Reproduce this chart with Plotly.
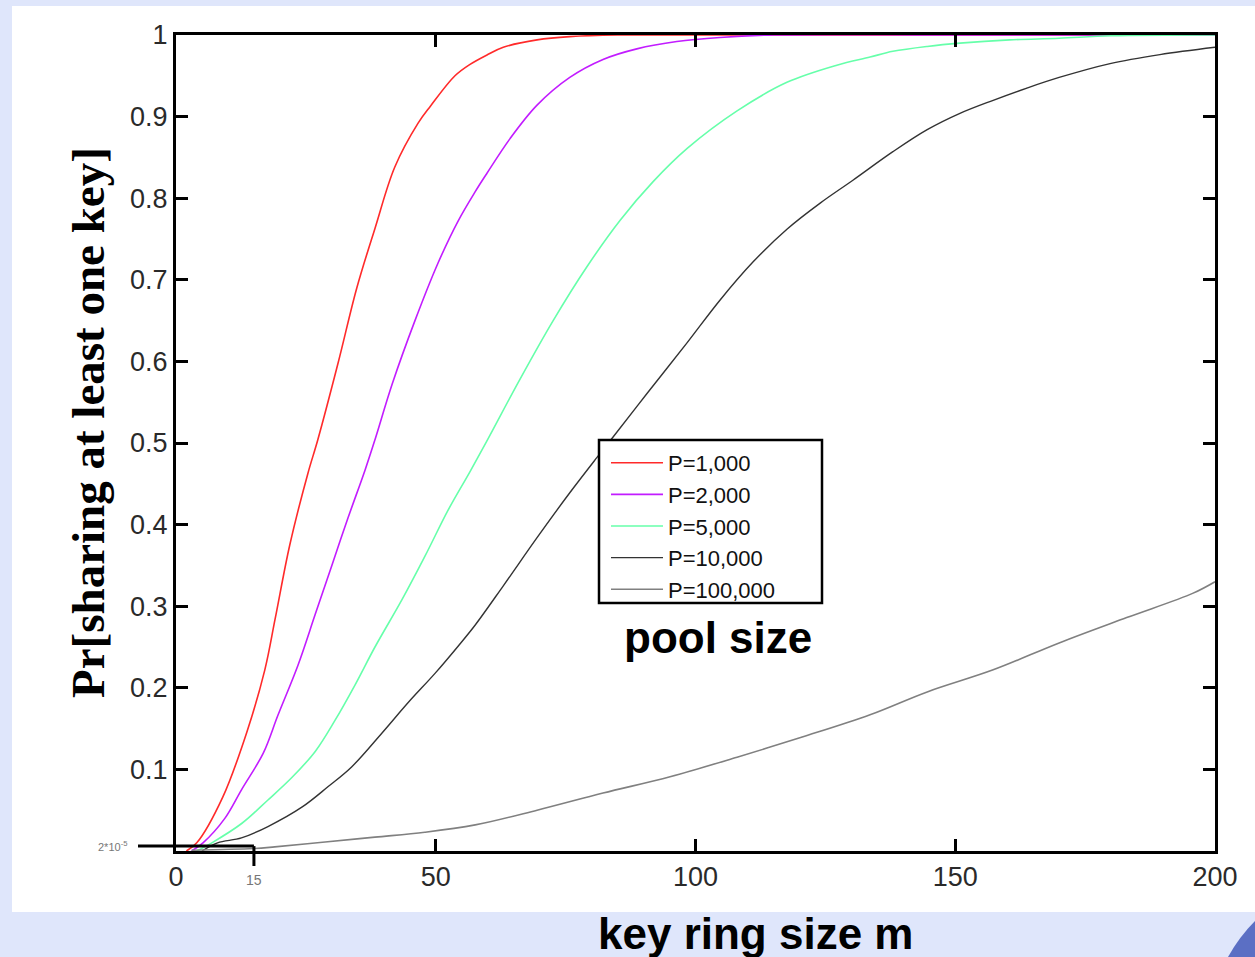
import plotly.graph_objects as go

# ---- data ----
series_names = ["P=1,000", "P=2,000", "P=5,000", "P=10,000", "P=100,000"]

m_p1000 = [2, 4, 9, 13.6, 17.1, 19.1, 21.9, 25.4, 27.3, 31.2, 34.8, 38.3, 42.1, 46.6, 49,
           53.7, 56.6, 60, 63, 69.5, 75.8, 85, 100, 150, 200]
v_p1000 = [0, 0.01, 0.066, 0.145, 0.222, 0.285, 0.375, 0.463, 0.504, 0.598, 0.69, 0.763, 0.838,
           0.892, 0.913, 0.95, 0.964, 0.976, 0.985, 0.994, 0.998, 1, 1, 1, 1]

m_p2000 = [3, 5.2, 9.4, 12.6, 16.8, 19.6, 23.5, 26.8, 30, 33.1, 36.4, 38.3, 41.6, 46, 50.4, 54.3,
           57.6, 59.8, 64.3, 69.5, 75.8, 82.2, 88.7, 96.4, 104.7, 115, 150, 200]
v_p2000 = [0, 0.01, 0.04, 0.075, 0.12, 0.166, 0.228, 0.29, 0.35, 0.408, 0.467, 0.504, 0.572,
           0.65, 0.72, 0.772, 0.808, 0.83, 0.873, 0.914, 0.948, 0.97, 0.983, 0.992, 0.997, 1, 1, 1]

m_p5000 = [4, 6.9, 12.7, 17.7, 22.3, 26.8, 30.6, 34.5, 38.3, 43.5, 47.9, 52.4, 56.6, 59.8, 66.2,
           72.6, 79.1, 85.5, 91.8, 98.4, 108, 117.6, 127.2, 133.6, 138, 144.6, 150.9, 160.5, 170,
           180, 200]
v_p5000 = [0, 0.01, 0.034, 0.0625, 0.09, 0.122, 0.16, 0.204, 0.25, 0.308, 0.361, 0.418, 0.465,
           0.502, 0.578, 0.65, 0.716, 0.773, 0.82, 0.861, 0.907, 0.942, 0.963, 0.973, 0.98,
           0.986, 0.99, 0.994, 0.996, 0.999, 1]

m_p10000 = [5, 8, 12.6, 17.7, 24.3, 29.3, 33.8, 39.7, 44.7, 49.9, 54.3, 57.6, 63, 69.5, 75.8, 81,
            84.1, 90.7, 98.4, 104.7, 111.1, 117.6, 124, 130.3, 138, 144.6, 150.9, 157.3,
            163.8, 170, 179.8, 189.4, 200]
v_p10000 = [0, 0.01, 0.016, 0.03, 0.054, 0.079, 0.103, 0.145, 0.182, 0.218, 0.251, 0.277, 0.325,
            0.384, 0.439, 0.482, 0.507, 0.561, 0.623, 0.675, 0.722, 0.762, 0.794, 0.822,
            0.857, 0.884, 0.904, 0.92, 0.935, 0.948, 0.965, 0.976, 0.985]

m_p100000 = [3, 15, 19, 28.7, 38.3, 47.9, 57.6, 69.5, 82.2, 95.1, 108, 120.7, 133.6, 144.6, 157.3,
             170, 183, 195.8, 200]
v_p100000 = [0.001, 0.003, 0.005, 0.011, 0.017, 0.023, 0.032, 0.05, 0.071, 0.091, 0.115, 0.14,
             0.167, 0.195, 0.222, 0.255, 0.286, 0.316, 0.33]

colors = ["#ff2a2a", "#c21cff", "#66ffaa", "#333333", "#808080"]
widths = [1.6, 1.6, 1.6, 1.4, 1.6]

x_tick_vals = [0, 50, 100, 150, 200]
x_tick_text = ["0", "50", "100", "150", "200"]
y_tick_vals = [0.1, 0.2, 0.3, 0.4, 0.5, 0.6, 0.7, 0.8, 0.9, 1.0]
y_tick_text = ["0.1", "0.2", "0.3", "0.4", "0.5", "0.6", "0.7", "0.8", "0.9", "1"]

xs = [m_p1000, m_p2000, m_p5000, m_p10000, m_p100000]
ys = [v_p1000, v_p2000, v_p5000, v_p10000, v_p100000]

fig = go.Figure()
for name, x, y, c, w in zip(series_names, xs, ys, colors, widths):
    fig.add_trace(go.Scatter(x=x, y=y, mode="lines", name=name,
                             line=dict(color=c, width=w, shape="spline", smoothing=1.0)))

W, H = 1255, 957
L, R, T, B = 176, 40, 35, 106
pw, ph = W - L - R, H - T - B


def px(xpix):
    return (xpix - L) / pw


def py(ypix):
    return (H - B - ypix) / ph


axis_font = dict(family="Liberation Sans, Arial, sans-serif", size=27, color="#2a2a2a")

fig.update_layout(
    width=W, height=H,
    margin=dict(l=L, r=R, t=T, b=B),
    paper_bgcolor="#dfe6fb",
    plot_bgcolor="white",
    showlegend=True,
    legend=dict(x=px(606), y=py(442), xanchor="left", yanchor="top",
                bgcolor="rgba(0,0,0,0)", borderwidth=0,
                font=dict(family="Liberation Sans, Arial, sans-serif", size=22, color="#111"),
                itemwidth=52, tracegroupgap=0),
    xaxis=dict(range=[0, 200], tickvals=x_tick_vals, ticktext=x_tick_text,
               showgrid=False, zeroline=False, showline=True, linecolor="black", linewidth=3,
               mirror="ticks", ticks="inside", ticklen=12, tickwidth=3, tickcolor="black",
               tickfont=axis_font),
    yaxis=dict(range=[0, 1], tickvals=y_tick_vals, ticktext=y_tick_text,
               showgrid=False, zeroline=False, showline=True, linecolor="black", linewidth=3,
               mirror="ticks", ticks="inside", ticklen=12, tickwidth=3, tickcolor="black",
               tickfont=axis_font),
)

# white slide panel behind the chart
fig.add_shape(type="rect", xref="paper", yref="paper",
              x0=px(12), x1=px(1262), y0=py(912), y1=py(6),
              fillcolor="white", line=dict(width=0), layer="below")

# legend frame (white box covering the curves underneath)
fig.add_shape(type="rect", xref="paper", yref="paper",
              x0=px(599), x1=px(822), y0=py(603), y1=py(440),
              fillcolor="white", line=dict(color="black", width=2.5), layer="above")

# decorative swoosh in the bottom-right corner
fig.add_shape(type="path", xref="paper", yref="paper",
              path=f"M {px(1228)},{py(957)} Q {px(1240)},{py(935)} {px(1258)},{py(918)} "
                   f"L {px(1258)},{py(957)} Z",
              fillcolor="#5b6fc4", line=dict(width=0), layer="above")

# small box near the origin and the odd "15" tick
fig.add_shape(type="line", xref="x", yref="y", x0=0, x1=15, y0=0.006, y1=0.006,
              line=dict(color="black", width=3))
fig.add_shape(type="line", xref="x", yref="paper", x0=15, x1=15, y0=0.006, y1=py(866),
              line=dict(color="black", width=3))
fig.add_shape(type="line", xref="paper", yref="y", x0=px(138), x1=0, y0=0.006, y1=0.006,
              line=dict(color="black", width=3))

fig.add_annotation(x=15, y=py(880), xref="x", yref="paper", text="15", showarrow=False,
                   xanchor="center", yanchor="middle",
                   font=dict(family="Liberation Sans, Arial, sans-serif", size=14, color="#777"))
fig.add_annotation(x=px(112), y=0.006, xref="paper", yref="y", text="2*10<sup>-5</sup>",
                   showarrow=False, xanchor="center", yanchor="middle",
                   font=dict(family="Liberation Sans, Arial, sans-serif", size=11, color="#777"))

# axis titles and notes
fig.add_annotation(x=px(88), y=py(423), xref="paper", yref="paper",
                   text="<b>Pr[sharing at least one key]</b>", textangle=-90, showarrow=False,
                   xanchor="center", yanchor="middle",
                   font=dict(family="Liberation Serif, Times New Roman, serif", size=47, color="black"))
fig.add_annotation(x=px(755), y=py(933), xref="paper", yref="paper",
                   text="<b>key ring size m</b>", showarrow=False,
                   xanchor="center", yanchor="middle",
                   font=dict(family="Liberation Sans, Arial, sans-serif", size=44, color="black"))
fig.add_annotation(x=px(718), y=py(637), xref="paper", yref="paper",
                   text="<b>pool size</b>", showarrow=False,
                   xanchor="center", yanchor="middle",
                   font=dict(family="Liberation Sans, Arial, sans-serif", size=44, color="black"))

fig.write_html("out.html", config={"displayModeBar": False},
               post_script="document.body.style.margin='0';document.body.style.overflow='hidden';")
